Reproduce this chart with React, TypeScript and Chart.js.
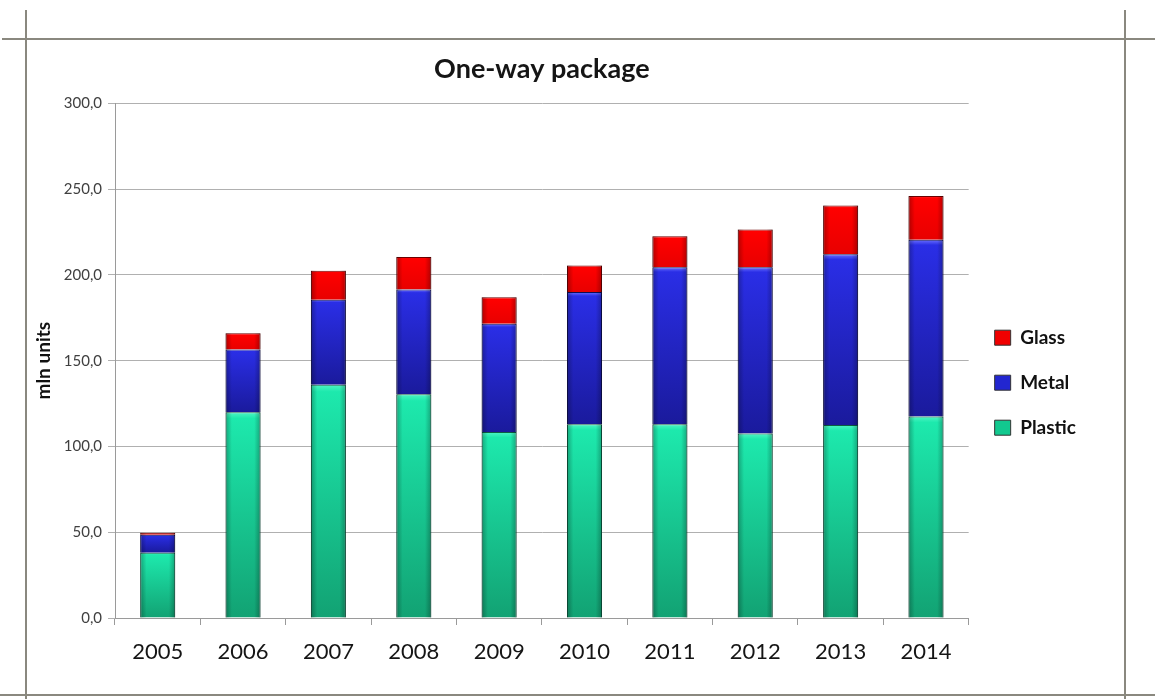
import { useEffect, useRef } from 'react';
import { Chart, registerables } from 'chart.js';

Chart.register(...registerables);

const years = ['2005', '2006', '2007', '2008', '2009', '2010', '2011', '2012', '2013', '2014'];
const plastic = [38, 120, 136, 130.5, 108.5, 113, 113, 107.5, 112.5, 117.5];
const metal = [10.5, 36.5, 49.5, 61, 63, 77, 91.5, 97, 99.5, 103];
const glass = [1.2, 9.5, 17, 19, 15.5, 15.5, 18, 22, 28.5, 25.5];
const yMin = 0;
const yMax = 300;
const yStep = 50;

type Stop = [number, string];

function segGradient(ctx: any, stops: Stop[]) {
  const chart = ctx.chart;
  const y = chart.scales && chart.scales.y;
  const fallback = stops[Math.floor(stops.length / 2)][1];
  if (!y || ctx.type !== 'data') return fallback;
  const i = ctx.dataIndex;
  const d = ctx.datasetIndex;
  let base = 0;
  for (let k = 0; k < d; k++) base += chart.data.datasets[k].data[i] as number;
  const top = base + (chart.data.datasets[d].data[i] as number);
  const y0 = y.getPixelForValue(top);
  const y1 = y.getPixelForValue(base);
  if (!isFinite(y0) || !isFinite(y1) || y0 === y1) return fallback;
  const g = chart.ctx.createLinearGradient(0, y0, 0, y1);
  stops.forEach(([o, c]) => g.addColorStop(o, c));
  return g;
}

const plasticStops: Stop[] = [[0, '#4ff5c4'], [0.03, '#1de9ad'], [1, '#12a273']];
const metalStops: Stop[] = [[0, '#6a70ff'], [0.03, '#2a2ee6'], [1, '#1a1a9c']];
const glassStops: Stop[] = [[0, '#ff3030'], [0.05, '#ff0000'], [1, '#e80000']];

const framePlugin = {
  id: 'frame',
  beforeDraw(chart: any) {
    const c = chart.ctx;
    c.save();
    c.fillStyle = '#ffffff';
    c.fillRect(0, 0, chart.width, chart.height);
    c.strokeStyle = '#8a887f';
    c.lineWidth = 2;
    c.beginPath();
    c.moveTo(2, 39);
    c.lineTo(chart.width, 39);
    c.moveTo(26, 10);
    c.lineTo(26, chart.height);
    c.moveTo(1125, 10);
    c.lineTo(1125, chart.height);
    c.moveTo(0, 695);
    c.lineTo(chart.width, 695);
    c.stroke();
    c.restore();
  },
};

const shadePlugin = {
  id: 'shade',
  afterDatasetsDraw(chart: any) {
    const c = chart.ctx;
    c.save();
    chart.data.datasets.forEach((_: any, di: number) => {
      const meta = chart.getDatasetMeta(di);
      meta.data.forEach((el: any) => {
        const { x, y, base, width } = el.getProps(['x', 'y', 'base', 'width'], true);
        const left = x - width / 2;
        const g = c.createLinearGradient(left, 0, left + width, 0);
        g.addColorStop(0, 'rgba(0,0,0,0.28)');
        g.addColorStop(0.18, 'rgba(0,0,0,0.0)');
        g.addColorStop(0.82, 'rgba(0,0,0,0.0)');
        g.addColorStop(1, 'rgba(0,0,0,0.28)');
        c.fillStyle = g;
        c.fillRect(left, Math.min(y, base), width, Math.abs(base - y));
      });
    });
    c.restore();
  },
};

const legendShift = {
  id: 'legendShift',
  afterLayout(chart: any) {
    const lg = chart.legend;
    if (lg) {
      lg.top += 22;
      lg.bottom += 22;
    }
  },
};

export default function App() {
  const ref = useRef<HTMLCanvasElement>(null);
  useEffect(() => {
    if (!ref.current) return;
    const solid = ['#12c98f', '#2226d0', '#f00000'];
    const chart = new Chart(ref.current, {
      type: 'bar',
      data: {
        labels: years,
        datasets: [
          {
            label: 'Plastic',
            data: plastic,
            backgroundColor: (ctx: any) => segGradient(ctx, plasticStops),
            borderColor: '#0b5e43',
            borderWidth: 1,
          },
          {
            label: 'Metal',
            data: metal,
            backgroundColor: (ctx: any) => segGradient(ctx, metalStops),
            borderColor: '#0d0d55',
            borderWidth: 1,
          },
          {
            label: 'Glass',
            data: glass,
            backgroundColor: (ctx: any) => segGradient(ctx, glassStops),
            borderColor: '#6e0000',
            borderWidth: 1,
          },
        ],
      },
      options: {
        responsive: false,
        animation: false,
        devicePixelRatio: 1,
        datasets: { bar: { barPercentage: 0.41, categoryPercentage: 1.0 } },
        layout: { padding: { left: 30, right: 69, top: 45, bottom: 20 } },
        plugins: {
          tooltip: { enabled: false },
          title: {
            display: true,
            text: 'One-way package',
            fullSize: false,
            color: '#151515',
            font: { family: 'Lato', size: 27, weight: 'bold' },
            padding: { top: 8, bottom: 18 },
          },
          legend: {
            position: 'right',
            fullSize: false,
            reverse: true,
            labels: {
              boxWidth: 16,
              boxHeight: 15,
              padding: 26,
              color: '#111',
              font: { family: 'Lato', size: 19, weight: 'bold' },
              generateLabels: (ch: any) => {
                const items = Chart.defaults.plugins.legend.labels.generateLabels(ch);
                return items.map((it: any) => ({
                  ...it,
                  fillStyle: solid[it.datasetIndex],
                  strokeStyle: '#333',
                  lineWidth: 1,
                }));
              },
            },
          },
        },
        scales: {
          x: {
            stacked: true,
            grid: { offset: true, drawOnChartArea: false, drawTicks: true, tickLength: 7, color: '#9a9a9a' },
            border: { color: '#9a9a9a' },
            ticks: { color: '#151515', font: { family: 'Lato', size: 22 }, padding: 14 },
            afterFit: (s: any) => { s.height = 61; },
          },
          y: {
            stacked: true,
            min: yMin,
            max: yMax,
            grid: { color: '#b0b0b0', tickLength: 7, drawTicks: true },
            border: { color: '#9a9a9a' },
            ticks: {
              stepSize: yStep,
              color: '#404040',
              padding: 6,
              font: { family: 'Lato', size: 15 },
              callback: (v: any) => Number(v).toFixed(1).replace('.', ','),
            },
            title: {
              display: true,
              text: 'mln units',
              color: '#111',
              font: { family: 'Lato', size: 19, weight: 'bold' },
              padding: { top: 2, bottom: 4 },
            },
            afterFit: (s: any) => { s.width = 85; },
          },
        },
      },
      plugins: [framePlugin, shadePlugin, legendShift],
    });
    return () => chart.destroy();
  }, []);
  return (
    <div style={{ position: 'absolute', left: 0, top: 0, width: 1155, height: 699 }}>
      <canvas ref={ref} width={1155} height={699} style={{ display: 'block' }} />
    </div>
  );
}
